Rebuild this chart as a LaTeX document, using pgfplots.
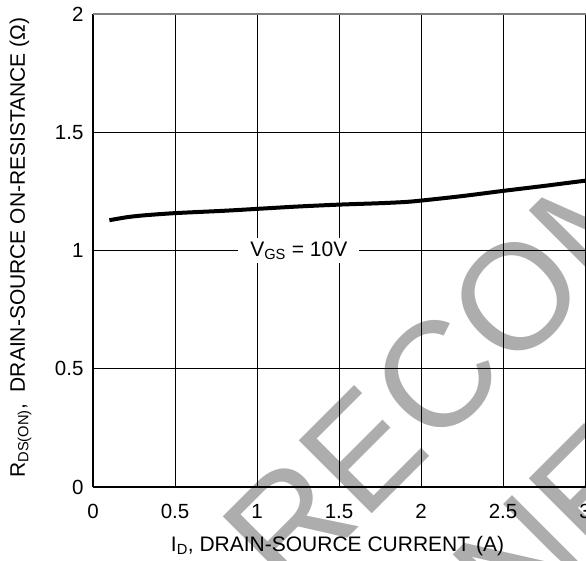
\documentclass[border=0pt]{standalone}
\usepackage{pgfplots}
\pgfplotsset{compat=1.18}
\usepackage{fontspec}
\setmainfont{Liberation Sans}
\definecolor{wm}{HTML}{ADADAD}
\begin{document}
\begin{tikzpicture}
% watermark (behind the chart)
\node[anchor=base west, rotate=45, text=wm, inner sep=0pt,
      font=\fontsize{150}{150}\selectfont] at (194pt,-112pt) {RECOMMENDED};
\node[anchor=base west, rotate=45, text=wm, inner sep=0pt,
      font=\fontsize{150}{150}\selectfont] at (424pt,-150pt) {NEW DESIGN};
\begin{axis}[
  x=164pt, y=236.5pt,
  xmin=0, xmax=4, ymin=0, ymax=2,
  xtick={0,0.5,...,4}, ytick={0,0.5,1,1.5,2},
  axis x line=bottom, axis y line=left,
  axis line style={-, line width=1.6pt, black},
  major tick length=0pt,
  grid=major,
  major grid style={black, line width=0.8pt},
  /pgf/number format/assume math mode=true,
  ticklabel style={font=\fontsize{20.5}{24}\selectfont},
  xticklabel style={yshift=-14pt},
  yticklabel style={xshift=-6pt},
  xlabel={I\textsubscript{D}, DRAIN-SOURCE CURRENT (A)},
  ylabel={R\textsubscript{DS(ON)}, \ DRAIN-SOURCE ON-RESISTANCE (Ω)},
  label style={font=\fontsize{21}{24}\selectfont},
  xlabel style={at={(axis description cs:0.3727,-0.1353)}, anchor=base},
  ylabel style={at={(axis description cs:-0.1037,0.506)}, anchor=base, rotate=0},
  clip=false,
]
\draw[gray, line width=1.6pt] (rel axis cs:0,1) -- (rel axis cs:1,1);
\addplot[black, line width=4pt, smooth, tension=0.5] coordinates {
 (0.1,1.128) (0.2,1.140) (0.3,1.148) (0.5,1.158) (0.8,1.168) (1.0,1.176)
 (1.25,1.186) (1.5,1.194) (1.75,1.200) (1.9,1.205) (2.0,1.211) (2.25,1.230)
 (2.5,1.252) (2.75,1.273) (3.0,1.295) (3.2,1.310)
};
\node[fill=white, inner xsep=12pt, inner ysep=4pt, font=\fontsize{21}{24}\selectfont]
  at (axis cs:1.255,1) {V\textsubscript{GS} = 10V};
\end{axis}
\pgfresetboundingbox
\path[use as bounding box] (-93pt,-73pt) rectangle (493pt,487pt);
\end{tikzpicture}
\end{document}
